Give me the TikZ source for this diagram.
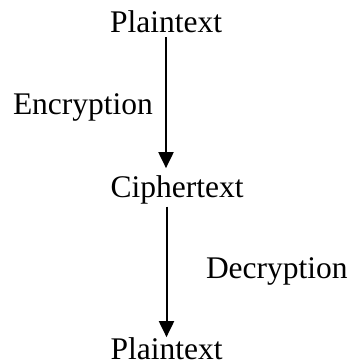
\documentclass[tikz,border=0pt]{standalone}
\usepackage{fontspec}
\setmainfont{Liberation Serif}
\usetikzlibrary{arrows.meta}
\begin{document}
\begin{tikzpicture}[x=1pt,y=1pt,
  lbl/.style={inner sep=0pt, outer sep=0pt, anchor=base, font=\fontsize{31.5}{36}\selectfont},
  arr/.style={line width=2pt, -{Triangle[width=15pt,length=16pt]}}]
\useasboundingbox (0,0) rectangle (350,-362);
\node[lbl] (p1) at (166,-32) {Plaintext};
\node[lbl] (c) at (177,-197) {Ciphertext};
\node[lbl] (p2) at (166.5,-359) {Plaintext};
\node[lbl, anchor=base west] (enc) at (13,-114) {Encryption};
\node[lbl, anchor=base west] (dec) at (206,-278) {Decryption};
\draw[arr, shorten <=5pt, shorten >=7pt] (p1.south) -- (p1.south |- c.north);
\draw[arr, shorten <=3pt] (c.south -| p2.north) -- (p2.north);
\end{tikzpicture}
\end{document}
